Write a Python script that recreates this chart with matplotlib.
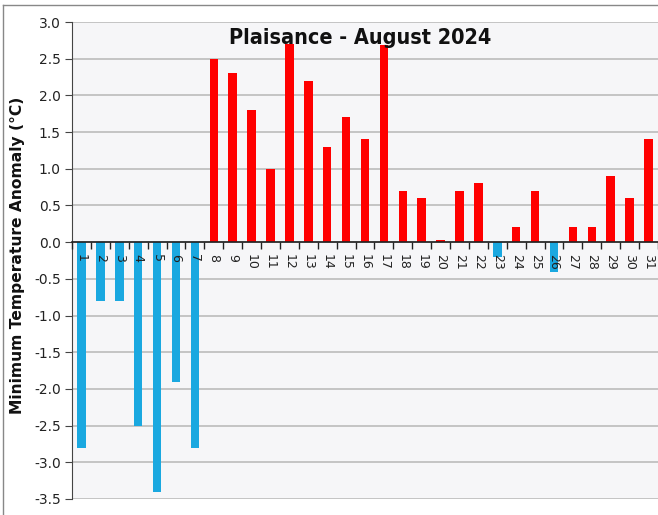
import matplotlib
matplotlib.use("Agg")
import matplotlib.pyplot as plt
from matplotlib.lines import Line2D
import numpy as np

days = list(range(1, 32))
anomaly = [-2.8, -0.8, -0.8, -2.5, -3.4, -1.9, -2.8, 2.5, 2.3, 1.8,
           1.0, 2.7, 2.2, 1.3, 1.7, 1.4, 2.68, 0.7, 0.6, 0.03,
           0.7, 0.8, -0.2, 0.2, 0.7, -0.4, 0.2, 0.2, 0.9, 0.6, 1.4]
y_ticks = [3.0, 2.5, 2.0, 1.5, 1.0, 0.5, 0.0, -0.5, -1.0, -1.5, -2.0, -2.5, -3.0, -3.5]
title = "Plaisance - August 2024"
ylabel = "Minimum Temperature Anomaly (°C)"

W, H = 658, 515
fig = plt.figure(figsize=(W / 100, H / 100), dpi=100)
fig.patch.set_facecolor("white")

left_px, right_px, top_px, bot_px = 72, 658, 22, 499
ax = fig.add_axes([left_px / W, 1 - bot_px / H, (right_px - left_px) / W, (bot_px - top_px) / H])
ax.set_facecolor("#F6F6F8")

colors = ["#FF0000" if v >= 0 else "#1AA8E0" for v in anomaly]
ax.bar(days, anomaly, width=0.45, color=colors, zorder=3)

ax.set_ylim(-3.5, 3.0)
ax.set_xlim(0.5, 0.5 + (right_px - left_px) / 19.0)
ax.set_yticks(y_ticks)
ax.set_yticklabels([f"{t:.1f}" for t in y_ticks], fontsize=10, color="#222222")
ax.yaxis.grid(True, color="#C4C4C4", linewidth=1.4)
ax.set_axisbelow(True)
ax.xaxis.set_zorder(5)

for s in ["top", "right"]:
    ax.spines[s].set_visible(False)
ax.spines["left"].set_color("#444444")
ax.spines["bottom"].set_position(("data", 0))
ax.spines["bottom"].set_color("#222222")
ax.spines["bottom"].set_linewidth(1.2)
ax.spines["bottom"].set_zorder(4)
ax.tick_params(axis="y", direction="out", length=5, color="#444444", pad=3)

ax.set_xticks(np.arange(0.5, 32.5, 1.0))
ax.set_xticklabels([])
ax.tick_params(axis="x", which="major", direction="out", length=5, width=1, color="#222222")
ax.set_xticks(days, minor=True)
ax.set_xticklabels([str(d) for d in days], minor=True, rotation=-90, fontsize=9,
                   color="#222222")
ax.tick_params(axis="x", which="minor", length=0, pad=8.5)

fig.text(360 / W, 1 - 38 / H, title, ha="center", va="center",
         fontsize=15.5, fontweight="bold", family="DejaVu Sans", fontstretch="condensed",
         color="#111111", zorder=10)

fig.text(18 / W, 1 - 255 / H, ylabel, rotation=90, ha="center", va="center",
         fontsize=11.2, fontweight="bold", color="#111111")

fig.add_artist(Line2D([3 / W, 3 / W], [0, 1 - 5 / H], transform=fig.transFigure,
                      color="#888888", linewidth=1))
fig.add_artist(Line2D([3 / W, 1], [1 - 5 / H, 1 - 5 / H], transform=fig.transFigure,
                      color="#888888", linewidth=1))

fig.savefig("out.png", dpi=100)
